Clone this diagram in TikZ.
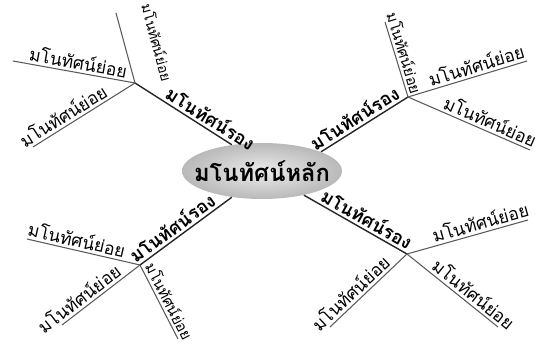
\documentclass[tikz,border=0pt]{standalone}
\usepackage{fontspec}
\newfontfamily\thaifont[Script=Thai]{Loma}
\usetikzlibrary{positioning, shapes.geometric}

\begin{document}
\begin{tikzpicture}[x=0.02cm, y=-0.02cm,
    trunk/.style={thick, black!85},
    twig/.style={semithick, black!65},
    lbl/.style={font=\thaifont\fontsize{10}{12}\selectfont, text=black, sloped, above, inner sep=1.5pt},
    steeplbl/.style={font=\thaifont\fontsize{8.5}{10}\selectfont, text=black, sloped, above, inner sep=1.5pt},
    blbl/.style={font=\thaifont\bfseries\fontsize{10.5}{12}\selectfont, text=black, sloped, above, inner sep=1.5pt}]
    \useasboundingbox (0,0) rectangle (541,344);
    % hauptknoten
    \node [ellipse, minimum width=3.2cm, minimum height=1.12cm, inner xsep=-8pt, inner ysep=0pt,
           inner color=gray!15, outer color=gray!55, font=\thaifont\bfseries\fontsize{13.5}{15}\selectfont]
          (main) at (262,171) {มโนทัศน์หลัก};
    % knotenpunkte
    \coordinate (tlhub) at (135,83);
    \coordinate (trhub) at (408,97);
    \coordinate (blhub) at (140,265);
    \coordinate (brhub) at (407,254);
    \coordinate (tla) at (13,61);   \coordinate (tlb) at (33,147);  \coordinate (tlc) at (116,13);
    \coordinate (tra) at (527,61);  \coordinate (trb) at (530,150); \coordinate (trc) at (385,22);
    \coordinate (bla) at (27,239);  \coordinate (blb) at (62,325);  \coordinate (blc) at (178,339);
    \coordinate (bra) at (528,220); \coordinate (brb) at (330,327); \coordinate (brc) at (498,327);
    % hauptaeste
    \draw [trunk] (tlhub) -- (main.139) node[blbl, pos=0.72] {มโนทัศน์รอง};
    \draw [trunk] (main.18) -- (trhub) node[blbl, pos=0.45] {มโนทัศน์รอง};
    \draw [trunk] (blhub) -- (main.221) node[blbl, pos=0.42] {มโนทัศน์รอง};
    \draw [trunk] (main.-30) -- (brhub) node[blbl, pos=0.56] {มโนทัศน์รอง};
    % nebenaeste
    \draw [twig] (tla) -- (tlhub) node[lbl, pos=0.52] {มโนทัศน์ย่อย};
    \draw [twig] (tlb) -- (tlhub) node[lbl, pos=0.35] {มโนทัศน์ย่อย};
    \draw [twig] (tlc) -- (tlhub) node[steeplbl, font=\thaifont\fontsize{8}{10}\selectfont, pos=0.54, above=13pt] {มโนทัศน์ย่อย};
    \draw [twig] (trc) -- (trhub) node[steeplbl, pos=0.45] {มโนทัศน์ย่อย};
    \draw [twig] (trhub) -- (tra) node[lbl, pos=0.6] {มโนทัศน์ย่อย};
    \draw [twig] (trhub) -- (trb) node[lbl, pos=0.64] {มโนทัศน์ย่อย};
    \draw [twig] (bla) -- (blhub) node[lbl, pos=0.42] {มโนทัศน์ย่อย};
    \draw [twig] (blb) -- (blhub) node[lbl, pos=0.3] {มโนทัศน์ย่อย};
    \draw [twig] (blhub) -- (blc) node[steeplbl, pos=0.55] {มโนทัศน์ย่อย};
    \draw [twig] (brhub) -- (bra) node[lbl, pos=0.63] {มโนทัศน์ย่อย};
    \draw [twig] (brb) -- (brhub) node[lbl, pos=0.36] {มโนทัศน์ย่อย};
    \draw [twig] (brhub) -- (brc) node[lbl, pos=0.66] {มโนทัศน์ย่อย};
\end{tikzpicture}
\end{document}
